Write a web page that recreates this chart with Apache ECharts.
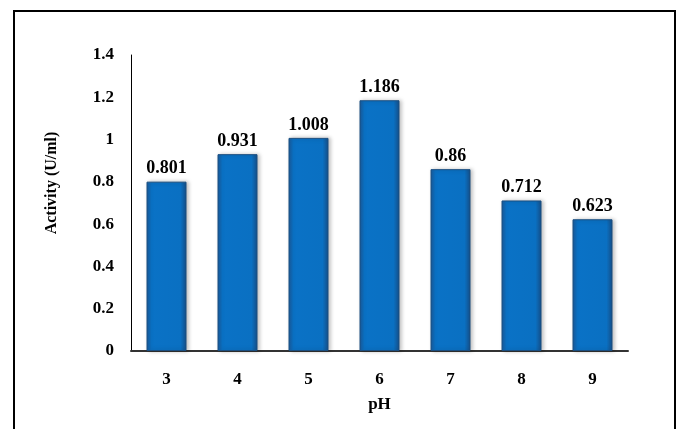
<!DOCTYPE html>
<html>
<head>
<meta charset="utf-8">
<script src="https://cdn.jsdelivr.net/npm/echarts@6/dist/echarts.min.js"></script>
<style>
  html, body { margin: 0; padding: 0; background: #fff; }
  #frame { position: absolute; left: 13px; top: 10px; width: 663px; height: 440px; border: 2px solid #000; box-sizing: border-box; }
  #chart { position: absolute; left: 0; top: 0; width: 683px; height: 429px; }
</style>
</head>
<body>
<div id="frame"></div>
<div id="chart"></div>
<script>
// pH values and measured activity
var categories = ['3', '4', '5', '6', '7', '8', '9']
var activity = [0.801, 0.931, 1.008, 1.186, 0.86, 0.712, 0.623]
var labels = ['0.801', '0.931', '1.008', '1.186', '0.86', '0.712', '0.623']
var yTicks = [0, 0.2, 0.4, 0.6, 0.8, 1, 1.2, 1.4]

var chart = echarts.init(document.getElementById('chart'))
var fontFam = '"Liberation Serif", "Times New Roman", serif'

chart.setOption({
  animation: false,
  grid: {
    left: 131,
    right: 55,
    top: 55,
    bottom: 78
  },
  xAxis: {
    type: 'category',
    data: categories,
    name: 'pH',
    nameLocation: 'middle',
    nameGap: 45,
    nameTextStyle: { fontFamily: fontFam, fontWeight: 'bold', fontSize: 17, color: '#000' },
    axisLine: { lineStyle: { color: '#333', width: 2 } },
    axisTick: { show: false },
    axisLabel: { fontFamily: fontFam, fontWeight: 'bold', fontSize: 17, color: '#000', margin: 20 }
  },
  yAxis: {
    type: 'value',
    min: 0,
    max: 1.4,
    interval: 0.2,
    name: 'Activity (U/ml)',
    nameLocation: 'middle',
    nameGap: 71,
    nameTextStyle: { fontFamily: fontFam, fontWeight: 'bold', fontSize: 16, color: '#000', padding: [0, 0, 0, 40] },
    axisLine: { show: true, lineStyle: { color: '#000', width: 1 } },
    axisTick: { show: false },
    splitLine: { show: false },
    axisLabel: {
      fontFamily: fontFam, fontWeight: 'bold', fontSize: 17, color: '#000', margin: 17,
      formatter: function (v) {
        var i = yTicks.indexOf(Math.round(v * 10) / 10)
        return i >= 0 ? String(yTicks[i]) : ''
      }
    }
  },
  series: [{
    type: 'bar',
    data: activity,
    barWidth: 40,
    itemStyle: {
      color: new echarts.graphic.LinearGradient(0, 0, 1, 0, [
        { offset: 0, color: '#1a5b9c' },
        { offset: 0.12, color: '#0a72c6' },
        { offset: 0.85, color: '#0a70c2' },
        { offset: 1, color: '#164f88' }
      ]),
      borderColor: '#1a4e80',
      borderWidth: 1,
      shadowColor: 'rgba(0,0,0,0.25)',
      shadowBlur: 4,
      shadowOffsetX: 2
    },
    label: {
      show: true,
      position: 'top',
      distance: 4,
      fontFamily: fontFam,
      fontWeight: 'bold',
      fontSize: 18,
      color: '#000',
      formatter: function (p) { return labels[p.dataIndex] }
    }
  }]
})
</script>
</body>
</html>
